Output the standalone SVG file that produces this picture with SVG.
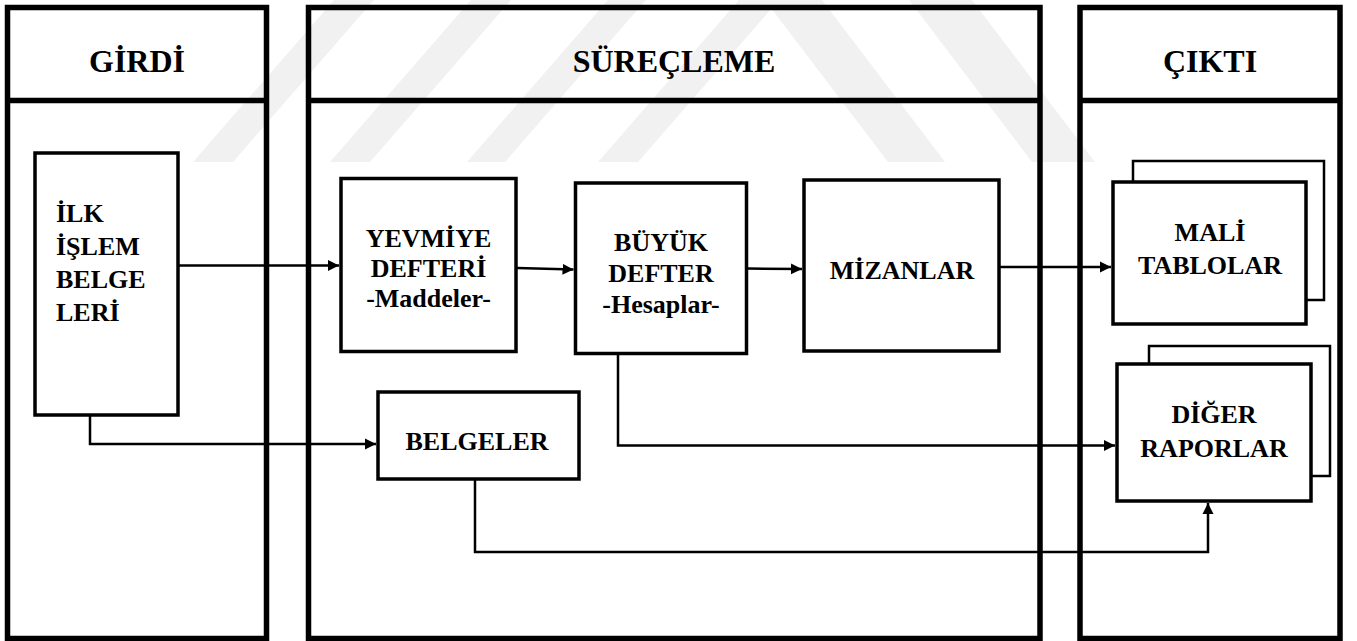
<svg xmlns="http://www.w3.org/2000/svg" width="1357" height="641" viewBox="0 0 1357 641">
<style>
.col{fill:none;stroke:#000;stroke-width:5.5}
.box{fill:#fff;stroke:#000;stroke-width:3.5}
.back{fill:#fff;stroke:#000;stroke-width:2.5}
.wm{fill:#f1f1f1}
.hd{font-size:32px;text-anchor:middle}
.tx{font-size:26px;text-anchor:middle}
.txl{font-size:26px}
.cn{fill:none;stroke:#000;stroke-width:2.5}
</style>
<defs>
<marker id="ah" markerUnits="userSpaceOnUse" markerWidth="12" markerHeight="12" refX="11" refY="6" orient="auto">
<path d="M0,0.5 L11,6 L0,11.5 z" fill="#000"/>
</marker>
</defs>
<rect width="1357" height="641" fill="#fff"/>
<g id="watermark">
<polygon class="wm" points="193,162 233,162 374,0 334,0"/>
<polygon class="wm" points="330,162 370,162 511,0 471,0"/>
<polygon class="wm" points="467,162 505,162 646,0 608,0"/>
<polygon class="wm" points="598,162 638,162 779,0 739,0"/>
<polygon class="wm" points="888,162 945,162 822,0 765,0"/>
<polygon class="wm" points="1032,162 1095,162 972,0 909,0"/>
</g>
<g font-family="Liberation Serif, Times New Roman, serif" font-weight="bold" fill="#000">
<g id="col-girdi">
<rect class="col" x="7.5" y="7.5" width="259" height="631"/>
<line class="col" x1="7.5" y1="100.5" x2="266.5" y2="100.5"/>
<text class="hd" x="137" y="72">GİRDİ</text>
</g>
<g id="col-surecleme">
<rect class="col" x="308.5" y="7.5" width="731.5" height="631"/>
<line class="col" x1="308.5" y1="100.5" x2="1040" y2="100.5"/>
<text class="hd" x="674" y="72">SÜREÇLEME</text>
</g>
<g id="col-cikti">
<rect class="col" x="1080" y="7.5" width="260" height="631"/>
<line class="col" x1="1080" y1="100.5" x2="1340" y2="100.5"/>
<text class="hd" x="1210" y="72">ÇIKTI</text>
</g>
<g id="connectors">
<polyline class="cn" points="178,265.5 339,265.5" marker-end="url(#ah)"/>
<polyline class="cn" points="517,268 573.5,269.5" marker-end="url(#ah)"/>
<polyline class="cn" points="748,268.5 802,269" marker-end="url(#ah)"/>
<polyline class="cn" points="1000,267 1111,267" marker-end="url(#ah)"/>
<polyline class="cn" points="90,416 90,444 376,444" marker-end="url(#ah)"/>
<polyline class="cn" points="618,355 618,445.5 1115,445.5" marker-end="url(#ah)"/>
<polyline class="cn" points="475,480 475,552 1208,552 1208,503" marker-end="url(#ah)"/>
</g>
<g id="node-ilk">
<rect class="box" x="35" y="153" width="143" height="262"/>
<text class="txl" x="56" y="222">İLK</text>
<text class="txl" x="56" y="255">İŞLEM</text>
<text class="txl" x="56" y="288">BELGE</text>
<text class="txl" x="56" y="321">LERİ</text>
</g>
<g id="node-yevmiye">
<rect class="box" x="341" y="178.5" width="175" height="173"/>
<text class="tx" x="428.5" y="247">YEVMİYE</text>
<text class="tx" x="428.5" y="277">DEFTERİ</text>
<text class="tx" x="428.5" y="307">-Maddeler-</text>
</g>
<g id="node-buyuk">
<rect class="box" x="575.5" y="183" width="171" height="170.5"/>
<text class="tx" x="661" y="251">BÜYÜK</text>
<text class="tx" x="661" y="282">DEFTER</text>
<text class="tx" x="661" y="313">-Hesaplar-</text>
</g>
<g id="node-mizanlar">
<rect class="box" x="804" y="180" width="195" height="171"/>
<text class="tx" x="902" y="279">MİZANLAR</text>
</g>
<g id="node-belgeler">
<rect class="box" x="378" y="392" width="201" height="87"/>
<text class="tx" x="477" y="450">BELGELER</text>
</g>
<g id="node-mali">
<rect class="back" x="1133" y="161" width="191" height="139"/>
<rect class="box" x="1113" y="182" width="193" height="142"/>
<text class="tx" x="1210" y="241">MALİ</text>
<text class="tx" x="1210" y="274">TABLOLAR</text>
</g>
<g id="node-diger">
<rect class="back" x="1149" y="346" width="181" height="130"/>
<rect class="box" x="1117" y="364" width="194" height="137"/>
<text class="tx" x="1214" y="423">DİĞER</text>
<text class="tx" x="1214" y="457">RAPORLAR</text>
</g>
</g>
</svg>
